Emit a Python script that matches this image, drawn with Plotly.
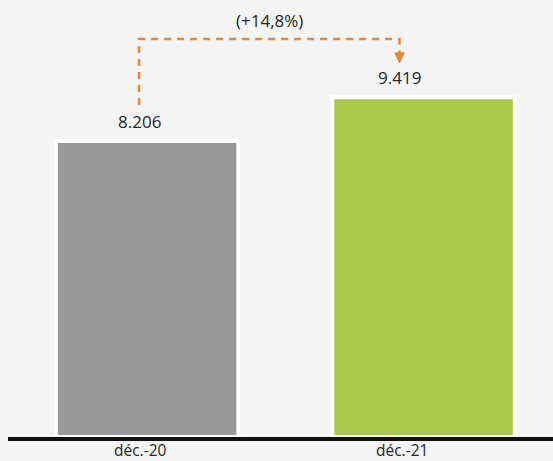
import plotly.graph_objects as go

categories = ["déc.-20", "déc.-21"]
values = [8206, 9419]
value_labels = ["8.206", "9.419"]
change_label = "(+14,8%)"
colors = ["#999999", "#A9C94A"]

fig = go.Figure()
fig.add_trace(go.Bar(
    x=list(range(len(categories))), y=values, width=0.66,
    marker=dict(color=colors, line=dict(color="white", width=4)),
    hoverinfo="skip",
))

font = "Open Sans"
txt = "#262626"
# value labels (slightly left of bar centres, as in reference)
label_dx = [-0.027, -0.087]
for i, (v, lab) in enumerate(zip(values, value_labels)):
    fig.add_annotation(x=i + label_dx[i], y=v, yshift=6, text=lab, showarrow=False,
                       yanchor="bottom", font=dict(family=font, size=17, color=txt))
# category labels
for i, c in enumerate(categories):
    fig.add_annotation(x=i + label_dx[i] * 0.9, y=0, xref="x", yref="y", yshift=-2,
                       text=c, showarrow=False, yanchor="top", borderpad=0, borderwidth=0,
                       font=dict(family=font, size=15.5, color=txt))

# dashed connector
xs, xe = -0.029, 0.913
y_low = values[0] + 1000
y_top = 11034
y_arrow = 10650
orange = "#E0893F"
fig.add_shape(type="path",
              path=f"M {xs},{y_low} L {xs},{y_top} L {xe},{y_top} L {xe},{y_arrow}",
              line=dict(color=orange, width=2.5, dash="7px,6px"), xref="x", yref="y")
fig.add_shape(type="path",
              path=f"M {xe-0.017},{y_arrow} L {xe+0.017},{y_arrow} L {xe},{values[1]+950} Z",
              fillcolor=orange, line=dict(color=orange, width=1), xref="x", yref="y")
fig.add_annotation(x=(xs + xe) / 2, y=y_top, yshift=5, text=change_label, showarrow=False,
                   yanchor="bottom", font=dict(family=font, size=17, color=txt))

fig.update_layout(
    width=553, height=461,
    margin=dict(l=8, r=0, t=0, b=24),
    paper_bgcolor="#f4f4f4", plot_bgcolor="#f4f4f4",
    showlegend=False,
    xaxis=dict(range=[-0.503, 1.468], showgrid=False, zeroline=False,
               showticklabels=False, showline=True, linecolor="#111111", linewidth=4,
               fixedrange=True),
    yaxis=dict(range=[0, 12115], visible=False, fixedrange=True),
)
fig.write_html("out.html", config={"displayModeBar": False},
               post_script="document.body.style.margin='0';document.body.style.background='#f4f4f4';")
